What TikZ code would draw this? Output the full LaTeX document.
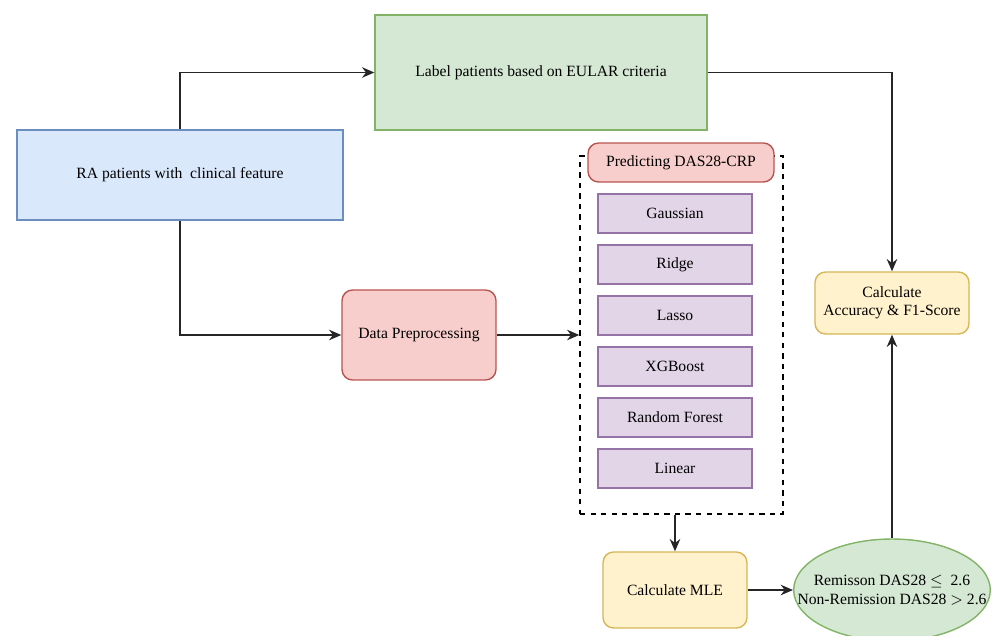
\documentclass[tikz,border=0pt]{standalone}
\usepackage{fontspec}
\setmainfont{Liberation Serif}
\usetikzlibrary{arrows.meta,shapes.geometric}
\definecolor{bluefill}{HTML}{DAE8FC}\definecolor{bluedraw}{HTML}{6C8EBF}
\definecolor{greenfill}{HTML}{D5E8D4}\definecolor{greendraw}{HTML}{82B366}
\definecolor{redfill}{HTML}{F8CECC}\definecolor{reddraw}{HTML}{B85450}
\definecolor{purplefill}{HTML}{E1D5E7}\definecolor{purpledraw}{HTML}{9673A6}
\definecolor{yellowfill}{HTML}{FFF2CC}\definecolor{yellowdraw}{HTML}{D6B656}
\begin{document}
\begin{tikzpicture}[x=0.02cm, y=-0.02cm,
  every node/.style={font=\fontsize{8.9}{10.5}\selectfont, inner sep=0pt, align=center},
  box/.style={shape=rectangle, draw, thick},
  roundbox/.style={shape=rectangle, draw, thick, rounded corners=6pt},
  model/.style={box, fill=purplefill, draw=purpledraw, minimum width=3.08cm, minimum height=0.78cm},
  conn/.style={-{Stealth[length=7pt,width=6pt]}, line width=0.9pt, black!85}]
\useasboundingbox (0,0) rectangle (992,636);
\node[box, fill=greenfill, draw=greendraw, minimum width=6.64cm, minimum height=2.3cm] (label) at (541, 72.5) {Label patients based on EULAR criteria};
\node[box, fill=bluefill, draw=bluedraw, minimum width=6.52cm, minimum height=1.8cm] (ra) at (180, 175) {RA patients with\ \ clinical feature};
\node[roundbox, fill=redfill, draw=reddraw, minimum width=3.08cm, minimum height=1.8cm] (prep) at (419, 335) {Data Preprocessing};
\node[shape=rectangle, draw, thick, dashed, minimum width=4.06cm, minimum height=7.16cm] (models) at (681.5, 335) {};
\node[roundbox, fill=redfill, draw=reddraw, minimum width=3.72cm, minimum height=0.78cm] (pred) at (681, 162.5) {Predicting DAS28-CRP};
\node[model] (gauss) at (675, 213.5) {Gaussian};
\node[model] (ridge) at (675, 264.5) {Ridge};
\node[model] (lasso) at (675, 315.5) {Lasso};
\node[model] (xgb) at (675, 366.5) {XGBoost};
\node[model] (rf) at (675, 417.5) {Random Forest};
\node[model] (lin) at (675, 468.5) {Linear};
\node[roundbox, fill=yellowfill, draw=yellowdraw, minimum width=2.88cm, minimum height=1.52cm] (mle) at (675, 590) {Calculate MLE};
\node[shape=ellipse, fill=greenfill, draw=greendraw, thick, inner xsep=-0.5cm, minimum width=3.84cm, minimum height=2.04cm] (rem) at (892, 590) {Remisson DAS28 $\leq$\ \ 2.6\\Non-Remission DAS28 $>$ 2.6};
\node[roundbox, fill=yellowfill, draw=yellowdraw, minimum width=3.08cm, minimum height=1.24cm] (acc) at (892, 303) {Calculate\\Accuracy \& F1-Score};
\draw[conn] (ra.north) |- (label.west);
\draw[conn] (ra.south) |- (prep.west);
\draw[conn] (prep.east) -- (models.west);
\draw[conn] (label.east) -| (acc.north);
\draw[conn] (mle.north |- models.south) -- (mle.north);
\draw[conn] (mle.east) -- (rem.west);
\draw[conn] (rem.north) -- (acc.south);
\end{tikzpicture}
\end{document}
